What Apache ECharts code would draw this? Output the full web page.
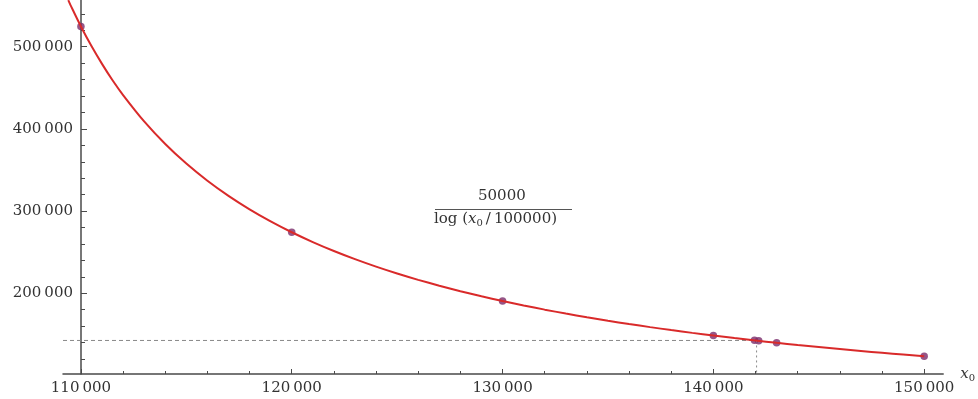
<!DOCTYPE html>
<html>
<head>
<meta charset="utf-8">
<script src="https://cdn.jsdelivr.net/npm/echarts@6/dist/echarts.min.js"></script>
<style>html,body{margin:0;padding:0;background:#fff}#c{width:978px;height:399px}</style>
</head>
<body>
<div id="c"></div>
<script>
// Curve samples
const curveX = [109400,109500,110000,110500,111000,111500,112000,113000,114000,115000,116000,117000,118000,119000,120000,121000,122000,123000,124000,125000,126000,127000,128000,129000,130000,131000,132000,133000,134000,135000,136000,137000,138000,139000,140000,141000,142000,143000,144000,145000,146000,147000,148000,149000,150000];
const curveY = [556540,550930,524600,500775,479110,459170,441190,409105,381600,357750,336880,318460,302090,287430,274240,262300,251450,241530,232440,224070,216350,209190,202550,196350,190575,185170,180095,175330,170840,166610,162610,158825,155240,151835,148600,145520,142590,139790,137120,134570,132125,129780,127540,125385,123315];
// Marked points
const pointsX = [110000,120000,130000,140000,141950,142150,143000,150000];
const pointsY = [524600,274240,190575,148600,142730,142160,139790,123315];
// Reference lines
const refX = 142050;
const refY = 142600;
// Ticks
const xMajorTicks = [110000,120000,130000,140000,150000];
const xMinorTicks = [112000,114000,116000,118000,122000,124000,126000,128000,132000,134000,136000,138000,142000,144000,146000,148000];
const yMajorTicks = [200000,300000,400000,500000];
const yMinorTicks = [120000,140000,160000,180000,220000,240000,260000,280000,320000,340000,360000,380000,420000,440000,460000,480000,520000,540000];

const X_MIN = 109150, X_MAX = 150900, Y_MIN = 101800, Y_MAX = 556800;
const FONT = 'DejaVu Serif';
const fmt = v => { const s = String(v); return s.slice(0, -3) + '\u2009' + s.slice(-3); };

const chart = echarts.init(document.getElementById('c'));
const axisColor = '#4a4a4a';
chart.setOption({
  animation: false,
  backgroundColor: '#fff',
  grid: { left: 63, right: 33, top: 0, bottom: 25 },
  xAxis: [{
    type: 'value', min: X_MIN, max: X_MAX,
    axisLine: { show: true, lineStyle: { color: axisColor, width: 1.5 } },
    axisTick: { show: true, inside: true, length: 5, customValues: xMajorTicks, lineStyle: { color: axisColor } },
    axisLabel: { show: true, customValues: xMajorTicks, formatter: fmt, color: '#333', fontFamily: FONT, fontSize: 15, margin: 7 },
    splitLine: { show: false },
    name: '{x|x}{s|0}', nameLocation: 'end', nameGap: 14,
    nameTextStyle: { rich: { x: { fontFamily: FONT, fontStyle: 'italic', fontSize: 15, color: '#333' }, s: { fontFamily: FONT, fontSize: 10, color: '#333', padding: [8, 0, 0, 0] } } }
  }, {
    type: 'value', min: X_MIN, max: X_MAX, position: 'bottom',
    axisLine: { show: false },
    axisTick: { show: true, inside: true, length: 3, customValues: xMinorTicks, lineStyle: { color: axisColor } },
    axisLabel: { show: false }, splitLine: { show: false }
  }],
  yAxis: [{
    type: 'value', min: Y_MIN, max: Y_MAX, offset: -18,
    axisLine: { show: true, lineStyle: { color: axisColor, width: 1.5 } },
    axisTick: { show: true, inside: true, length: 6, customValues: yMajorTicks, lineStyle: { color: axisColor } },
    axisLabel: { show: true, customValues: yMajorTicks, formatter: fmt, color: '#333', fontFamily: FONT, fontSize: 15, margin: 8 },
    splitLine: { show: false }
  }, {
    type: 'value', min: Y_MIN, max: Y_MAX, offset: -18, position: 'left',
    axisLine: { show: false },
    axisTick: { show: true, inside: true, length: 4, customValues: yMinorTicks, lineStyle: { color: axisColor } },
    axisLabel: { show: false }, splitLine: { show: false }
  }],
  series: [
    {
      type: 'line', silent: true, symbol: 'none',
      data: [[X_MIN, refY], [refX, refY]],
      lineStyle: { color: '#888', width: 1, type: [4, 3] }
    },
    {
      type: 'line', silent: true, symbol: 'none',
      data: [[refX, refY], [refX, Y_MIN]],
      lineStyle: { color: '#888', width: 1, type: [2, 3] }
    },
    {
      type: 'line', symbol: 'none', smooth: 0.3, clip: true,
      data: curveX.map((x, i) => [x, curveY[i]]),
      lineStyle: { color: '#d92a2a', width: 2 }
    },
    {
      type: 'scatter', symbolSize: 7.5,
      data: pointsX.map((x, i) => [x, pointsY[i]]),
      itemStyle: { color: '#7a2c6a' }
    }
  ],
  graphic: [
    { type: 'text', left: 478, top: 189, style: { text: '50000', font: '15px "' + FONT + '"', fill: '#333' } },
    { type: 'line', shape: { x1: 435, y1: 209.5, x2: 572, y2: 209.5 }, style: { stroke: '#555', lineWidth: 1 } },
    { type: 'text', left: 434, top: 212, style: {
        text: '{n|log (}{i|x}{s|0}{n|\u2009/\u2009100000)}',
        rich: {
          n: { fontFamily: FONT, fontSize: 15, fill: '#333' },
          i: { fontFamily: FONT, fontSize: 15, fontStyle: 'italic', fill: '#333' },
          s: { fontFamily: FONT, fontSize: 10, fill: '#333', padding: [7, 0, 0, 0] }
        }
    } }
  ]
});
</script>
</body>
</html>
